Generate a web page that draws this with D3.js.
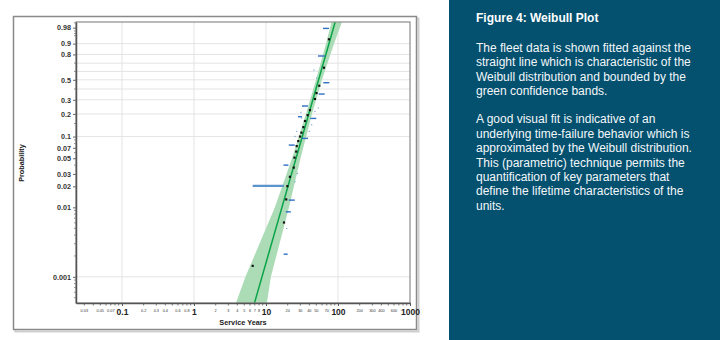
<!DOCTYPE html>
<html>
<head>
<meta charset="utf-8">
<script src="https://cdn.jsdelivr.net/npm/d3@7"></script>
<style>
  body { margin: 0; background: #fff; }
  svg text { font-family: "Liberation Sans", Arial, sans-serif; }
</style>
</head>
<body>
<div id="chart"></div>
<script>
// ---- data ----
// y tick labels (probability), gridlines, minor ticks
const yLabels = [0.98, 0.9, 0.8, 0.5, 0.3, 0.2, 0.1, 0.07, 0.05, 0.03, 0.02, 0.01, 0.001];
const yGrid = [0.9, 0.8, 0.7, 0.6, 0.5, 0.4, 0.3, 0.2, 0.1, 0.001];
const yMinor = [0.99, 0.97, 0.96, 0.95, 0.7, 0.6, 0.4, 0.15, 0.09, 0.08, 0.06, 0.04,
                0.009, 0.008, 0.007, 0.006, 0.005, 0.004, 0.003, 0.002,
                0.0009, 0.0008, 0.0007, 0.0006, 0.0005];

// x axis (service years)
const xMajor = [0.1, 1, 10, 100, 1000];
const xMinor = [0.03, 0.04, 0.05, 0.06, 0.07, 0.08, 0.09,
                0.2, 0.3, 0.4, 0.5, 0.6, 0.7, 0.8, 0.9,
                2, 3, 4, 5, 6, 7, 8, 9,
                20, 30, 40, 50, 60, 70, 80, 90,
                200, 300, 400, 500, 600, 700, 800, 900];
const xMinorLabels = [0.03, 0.05, 0.07, 0.2, 0.3, 0.4, 0.6, 0.8,
                      2, 3, 4, 5, 6, 7, 8, 20, 30, 40, 50, 70, 200, 300, 400, 600];
const xGrid = [0.1, 1, 10, 100];

// fitted weibull line (two end points)
const fitT = [6.92, 91.4];
const fitP = [0.00042, 0.9911];

// confidence band
const bandP  = [0.00042, 0.001, 0.01, 0.05, 0.2, 0.5, 0.9, 0.9911];
const bandLo = [3.83, 5.19, 13.3, 23.0, 35.9, 49.5, 68.1, 81.3];
const bandHi = [10.3, 11.7, 20.9, 30.2, 43.5, 59.9, 88.0, 113.6];

// failures (black squares)
const failT = [75.0, 63.9, 55.0, 50.3, 47.9, 40.8, 37.9, 34.8, 33.0, 31.1, 29.7,
               28.1, 26.7, 26.3, 24.9, 24.3, 21.5, 19.8, 19.1, 17.8, 6.53];
const failP = [0.930, 0.645, 0.434, 0.360, 0.307, 0.224, 0.193, 0.162, 0.134, 0.113, 0.100,
               0.0867, 0.0739, 0.062, 0.051, 0.0369, 0.0273, 0.0201, 0.0130, 0.00606, 0.00144];

// interval markers (blue dashes)
const dashLo = [61.9, 52.7, 62.5, 53.9, 31.6, 41.2, 27.8, 31.6, 20.7, 17.5, 20.7, 18.8, 17.6];
const dashHi = [75.0, 65.9, 75.7, 65.3, 38.3, 50.0, 31.6, 38.3, 25.1, 20.5, 25.1, 22.1, 20.0];
const dashP  = [0.978, 0.783, 0.467, 0.351, 0.252, 0.175, 0.184, 0.0944, 0.0763, 0.040, 0.0127, 0.00862, 0.00212];

// long interval bar
const longLo = 6.53, longHi = 17.8, longP = 0.0203;

// tiny blue dots
const dotT = [33.0, 30.6, 31.3, 26.7, 25.3, 50.6, 53.2, 47.9, 43.2, 39.9, 19.4, 25.3, 27.2, 46.4];
const dotP = [0.2495, 0.2097, 0.177, 0.1177, 0.1006, 0.521, 0.238, 0.216, 0.144, 0.1177,
              0.00497, 0.0232, 0.0305, 0.617];

const titleText = "Figure 4: Weibull Plot";
const para1 = ["The fleet data is shown fitted against the",
               "straight line which is characteristic of the",
               "Weibull distribution and bounded by the",
               "green confidence bands."];
const para2 = ["A good visual fit is indicative of an",
               "underlying time-failure behavior which is",
               "approximated by the Weibull distribution.",
               "This (parametric) technique permits the",
               "quantification of key parameters that",
               "define the lifetime characteristics of the",
               "units."];

// ---- chart ----
const W = p => Math.log(-Math.log(1 - p));

const svg = d3.select("#chart").append("svg")
    .attr("width", 720)
    .attr("height", 340);

const plot = {left: 76, top: 22, right: 410, bottom: 303};

const x = d3.scaleLog().domain([0.023, 1000]).range([plot.left, plot.right]);
const y = d3.scaleLinear().domain([W(0.00042), W(0.9911)]).range([plot.bottom, plot.top]);
const yp = p => y(W(p));

// outer frame with shadow
svg.append("rect")
    .attr("x", 15.5).attr("y", 18.5).attr("width", 403).attr("height", 313)
    .attr("fill", "none").attr("stroke", "#d0d0d0").attr("stroke-width", 2);
svg.append("rect")
    .attr("x", 13.5).attr("y", 16.5).attr("width", 403).attr("height", 313)
    .attr("fill", "#fff").attr("stroke", "#8a8a8a").attr("stroke-width", 1.5);

svg.append("defs").append("clipPath").attr("id", "clip")
    .append("rect")
    .attr("x", plot.left).attr("y", plot.top)
    .attr("width", plot.right - plot.left).attr("height", plot.bottom - plot.top);

// gridlines
svg.append("g").selectAll("line").data(yGrid).join("line")
    .attr("x1", plot.left).attr("x2", plot.right)
    .attr("y1", d => yp(d)).attr("y2", d => yp(d))
    .attr("stroke", "#e4e4e4").attr("stroke-width", 1);

svg.append("g").selectAll("line").data(xGrid).join("line")
    .attr("x1", d => x(d)).attr("x2", d => x(d))
    .attr("y1", plot.top).attr("y2", plot.bottom)
    .attr("stroke", "#e4e4e4").attr("stroke-width", 1);

const g = svg.append("g").attr("clip-path", "url(#clip)");

// confidence band
const band = bandP.map((p, i) => ({p: p, lo: bandLo[i], hi: bandHi[i]}));
const area = d3.area()
    .y(d => yp(d.p))
    .x0(d => x(d.lo))
    .x1(d => x(d.hi));
g.append("path")
    .datum(band)
    .attr("d", area)
    .attr("fill", "#acdcb6");

// fit line
const fit = fitT.map((t, i) => ({t: t, p: fitP[i]}));
g.append("path")
    .datum(fit)
    .attr("d", d3.line().x(d => x(d.t)).y(d => yp(d.p)))
    .attr("stroke", "#0ba34a")
    .attr("stroke-width", 1.5)
    .attr("fill", "none");

// long interval bar
g.append("line")
    .attr("x1", x(longLo)).attr("x2", x(longHi))
    .attr("y1", yp(longP)).attr("y2", yp(longP))
    .attr("stroke", "#5b93cc").attr("stroke-width", 2.2);

// blue dashes
g.append("g").selectAll("line").data(dashP).join("line")
    .attr("x1", (d, i) => x(dashLo[i])).attr("x2", (d, i) => x(dashHi[i]))
    .attr("y1", d => yp(d)).attr("y2", d => yp(d))
    .attr("stroke", "#2f6fc4").attr("stroke-width", 1.4);

// tiny dots
g.append("g").selectAll("rect").data(dotP).join("rect")
    .attr("x", (d, i) => x(dotT[i]) - 0.5)
    .attr("y", d => yp(d) - 0.5)
    .attr("width", 1).attr("height", 1)
    .attr("fill", "#4a86d0");

// failures
g.append("g").selectAll("rect").data(failP).join("rect")
    .attr("x", (d, i) => x(failT[i]) - 1.1)
    .attr("y", d => yp(d) - 1.1)
    .attr("width", 2.2).attr("height", 2.2)
    .attr("fill", "#111");

// plot border
svg.append("rect")
    .attr("x", plot.left).attr("y", plot.top)
    .attr("width", plot.right - plot.left).attr("height", plot.bottom - plot.top)
    .attr("fill", "none").attr("stroke", "#8c8c8c").attr("stroke-width", 1.2);

// y axis
const yAxis = svg.append("g")
    .attr("transform", `translate(${plot.left},0)`)
    .call(d3.axisLeft(y)
        .tickValues(yLabels.map(W))
        .tickFormat((d, i) => yLabels[i])
        .tickSize(3).tickSizeOuter(0).tickPadding(2));
yAxis.select(".domain").attr("stroke", "#555").attr("stroke-width", 1.5);
yAxis.selectAll(".tick line").attr("stroke", "#666");
yAxis.selectAll("text")
    .attr("fill", "#333").attr("font-size", 7.2).attr("font-weight", "bold");

svg.append("g").selectAll("line").data(yMinor).join("line")
    .attr("x1", plot.left - 2).attr("x2", plot.left)
    .attr("y1", d => yp(d)).attr("y2", d => yp(d))
    .attr("stroke", "#777").attr("stroke-width", 0.8);

// x axis
const xAxis = svg.append("g")
    .attr("transform", `translate(0,${plot.bottom})`)
    .call(d3.axisBottom(x)
        .tickValues(xMajor)
        .tickFormat(d => String(d))
        .tickSize(3).tickSizeOuter(0).tickPadding(3));
xAxis.select(".domain").attr("stroke", "#555").attr("stroke-width", 1.5);
xAxis.selectAll(".tick line").attr("stroke", "#555");
xAxis.selectAll("text")
    .attr("fill", "#222").attr("font-size", 8.5).attr("font-weight", "bold");

svg.append("g").selectAll("line").data(xMinor).join("line")
    .attr("x1", d => x(d)).attr("x2", d => x(d))
    .attr("y1", plot.bottom).attr("y2", plot.bottom + 2.5)
    .attr("stroke", "#555").attr("stroke-width", 0.8);

svg.append("g").selectAll("text").data(xMinorLabels).join("text")
    .attr("x", d => x(d))
    .attr("y", plot.bottom + 9)
    .attr("text-anchor", "middle")
    .attr("font-size", 3.8)
    .attr("fill", "#333")
    .text(d => String(d));

// axis titles
svg.append("text")
    .attr("transform", `translate(24,163) rotate(-90)`)
    .attr("text-anchor", "middle")
    .attr("font-size", 7.3)
    .attr("font-weight", "bold")
    .attr("fill", "#222")
    .text("Probability");

svg.append("text")
    .attr("x", (plot.left + plot.right) / 2)
    .attr("y", 324.5)
    .attr("text-anchor", "middle")
    .attr("font-size", 7.3)
    .attr("font-weight", "bold")
    .attr("fill", "#222")
    .text("Service Years");

// right text panel
svg.append("rect")
    .attr("x", 449).attr("y", 0).attr("width", 271).attr("height", 340)
    .attr("fill", "#03506f");

svg.append("text")
    .attr("x", 476).attr("y", 22)
    .attr("font-size", 12).attr("font-weight", "bold")
    .attr("fill", "#fff")
    .text(titleText);

svg.append("g").selectAll("text").data(para1).join("text")
    .attr("x", 476)
    .attr("y", (d, i) => 51.7 + i * 14.4)
    .attr("font-size", 12)
    .attr("fill", "#f4f7f9")
    .text(d => d);

svg.append("g").selectAll("text").data(para2).join("text")
    .attr("x", 476)
    .attr("y", (d, i) => 123.3 + i * 14.4)
    .attr("font-size", 12)
    .attr("fill", "#f4f7f9")
    .text(d => d);
</script>
</body>
</html>
